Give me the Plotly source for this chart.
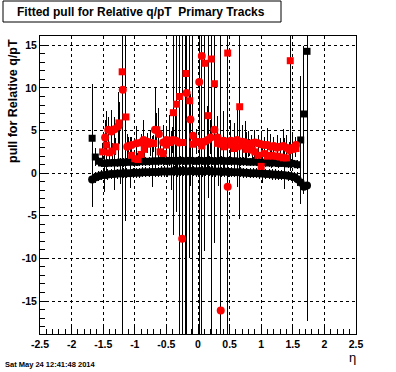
import plotly.graph_objects as go

# ---------------- data ----------------
eta_bins = [
    -1.675, -1.625, -1.575, -1.525, -1.475, -1.425, -1.375, -1.325, -1.275, -1.225,
    -1.175, -1.125, -1.075, -1.025, -0.975, -0.925, -0.875, -0.825, -0.775, -0.725,
    -0.675, -0.625, -0.575, -0.525, -0.475, -0.425, -0.375, -0.325, -0.275, -0.225,
    -0.175, -0.125, -0.075, -0.025, 0.025, 0.075, 0.125, 0.175, 0.225, 0.275,
    0.325, 0.375, 0.425, 0.475, 0.525, 0.575, 0.625, 0.675, 0.725, 0.775,
    0.825, 0.875, 0.925, 0.975, 1.025, 1.075, 1.125, 1.175, 1.225, 1.275,
    1.325, 1.375, 1.425, 1.475, 1.525, 1.575, 1.625, 1.675, 1.725,
]

black_circle_vals = [
    -0.75, -0.5, -0.35, -0.25, -0.2, -0.15, -0.1, -0.1, -0.05, -0.05,
    0.0, 0.0, 0.0, 0.05, 0.05, 0.05, 0.1, 0.1, 0.1, 0.15,
    0.15, 0.15, 0.2, 0.2, 0.2, 0.2, 0.25, 0.2, 0.25, 0.25,
    0.2, 0.25, 0.25, 0.2, 0.25, 0.2, 0.25, 0.25, 0.2, 0.2,
    0.2, 0.15, 0.2, 0.15, 0.15, 0.1, 0.1, 0.1, 0.05, 0.05,
    0.0, 0.0, 0.0, -0.05, -0.05, -0.1, -0.1, -0.15, -0.15, -0.2,
    -0.2, -0.25, -0.3, -0.35, -0.45, -0.7, -1.1, -1.6, -1.45,
]
black_circle_errs = [
    3.2, 0.6, 0.6, 0.6, 2.0, 0.6, 0.6, 0.6, 0.6, 1.2,
    0.6, 0.6, 0.6, 0.6, 0.6, 0.6, 0.6, 0.6, 0.6, 0.6,
    0.6, 0.6, 0.6, 0.6, 0.6, 0.6, 0.6, 0.6, 0.6, 0.6,
    0.6, 0.6, 0.6, 0.6, 0.6, 0.6, 0.6, 0.6, 0.6, 0.6,
    0.6, 0.6, 0.6, 0.6, 0.6, 0.6, 0.6, 0.6, 0.6, 0.6,
    0.6, 0.6, 0.6, 0.6, 0.6, 0.6, 0.6, 0.6, 0.6, 0.6,
    0.6, 0.6, 0.6, 0.6, 0.6, 0.8, 0.8, 0.8, 0.6,
]

black_square_vals = [
    4.1, 1.9, 1.4, 1.2, 1.15, 1.2, 1.2, 1.25, 1.2, 1.3,
    1.25, 1.3, 1.3, 1.35, 1.3, 1.35, 1.4, 1.35, 1.4, 1.4,
    1.45, 1.4, 1.5, 1.45, 1.4, 1.5, 1.45, 1.4, 1.5, 1.45,
    1.4, 1.5, 1.45, 1.4, 1.5, 1.45, 1.4, 1.5, 1.45, 1.4,
    1.45, 1.5, 1.4, 1.45, 1.4, 1.45, 1.4, 1.35, 1.4, 1.35,
    1.3, 1.35, 1.3, 1.25, 1.3, 1.25, 1.2, 1.25, 1.2, 1.15,
    1.2, 1.15, 1.1, 1.15, 1.1, 1.0, 3.9, 6.95, 14.3,
]
black_square_errs = [
    6.4, 1.0, 0.5, 0.5, 3.0, 0.5, 0.5, 3.2, 0.5, 0.5,
    0.5, 0.5, 3.0, 0.5, 0.5, 0.5, 0.5, 0.5, 0.5, 3.0,
    0.5, 0.5, 0.5, 0.5, 0.5, 3.5, 0.5, 0.5, 0.5, 0.5,
    0.5, 3.0, 0.5, 0.5, 0.5, 0.5, 0.5, 0.5, 0.5, 0.5,
    3.0, 0.5, 0.5, 0.5, 0.5, 0.5, 3.0, 0.5, 0.5, 0.5,
    0.5, 0.5, 0.5, 0.5, 2.5, 0.5, 0.5, 0.5, 0.5, 0.5,
    0.5, 3.0, 0.5, 0.5, 0.5, 0.5, 7.5, 8.0, 31.7,
]

red_square_eta = [
    -1.51, -1.45, -1.40, -1.35, -1.30, -1.25, -1.20, -1.14, -1.10, -1.05,
    -1.00, -0.95, -0.90, -0.85, -0.80, -0.75, -0.70, -0.65, -0.60, -0.55,
    -0.50, -0.45, -0.39, -0.34, -0.29, -0.24, -0.19, -0.13, -0.08, -0.03,
    0.02, 0.06, 0.11, 0.16, 0.21, 0.26, 0.31, 0.36, 0.41, 0.47,
    0.52, 0.57, 0.62, 0.66, 0.71, 0.76, 0.81, 0.86, 0.90, 0.95,
    1.00, 1.05, 1.10, 1.16, 1.20, 1.25, 1.30, 1.35, 1.40, 1.46,
    1.50, 1.55,
]
red_square_vals = [
    2.5, 3.3, 2.4, 2.6, 3.1, 5.9, 11.9, 6.6, 3.2, 2.1,
    1.7, 1.6, 2.2, 2.8, 3.4, 3.6, 3.5, 5.1, 2.5, 2.3,
    3.3, 3.6, 7.1, 8.1, 9.0, 3.6, 11.7, 8.5, 3.4, 3.6,
    3.7, 3.2, 12.9, 6.75, 13.4, 10.5, 3.5, 3.4, 3.1, 14.1,
    3.3, 2.9, 3.1, 7.8, 3.2, 2.8, 3.0, 2.7, 2.5, 2.1,
    0.8, 2.3, 2.0, 2.1, 2.0, 2.0, 1.9, 1.8, 1.8, 13.2,
    2.8, 2.9,
]
red_square_errs = [
    1.0, 4.0, 1.0, 1.0, 1.0, 2.5, 40, 12.2, 1.0, 1.0,
    1.0, 0.8, 1.0, 1.0, 1.0, 1.5, 1.0, 2.0, 1.0, 1.5,
    1.0, 1.5, 14.3, 12.6, 30, 1.5, 35, 18.4, 2.0, 1.0,
    1.0, 3.0, 22, 9.7, 40, 18.7, 2.5, 1.0, 2.0, 40,
    1.5, 3.0, 1.0, 13.2, 1.0, 2.0, 1.0, 1.0, 1.0, 1.0,
    1.0, 1.0, 1.0, 1.5, 1.0, 1.0, 1.0, 1.0, 1.0, 13,
    1.0, 1.0,
]

red_circle_eta = [
    -1.47, -1.42, -1.37, -1.32, -1.26, -1.19, -1.12, -1.05, -0.97, -0.90,
    -0.86, -0.80, -0.75, -0.68, -0.62, -0.55, -0.50, -0.45, -0.40, -0.35,
    -0.30, -0.25, -0.18, -0.12, -0.08, -0.03, 0.02, 0.06, 0.10, 0.15,
    0.20, 0.26, 0.31, 0.36, 0.41, 0.47, 0.52, 0.57, 0.62, 0.70,
    0.75, 0.80, 0.85, 0.90, 0.95, 1.00, 1.05, 1.10, 1.15, 1.20,
    1.25, 1.30, 1.35, 1.40, 1.45, 1.50, 1.55,
]
red_circle_vals = [
    4.2, 5.1, 4.9, 5.15, 5.5, 9.8, 3.1, 3.3, 3.5, 3.6,
    3.9, 3.7, 3.5, 5.1, 4.6, 3.6, 3.9, 3.8, 3.9, 3.8,
    3.6, -7.7, 9.4, 6.3, 4.4, 3.7, 10.7, 13.75, 3.7, 3.9,
    4.2, 5.1, 4.2, -16.1, 3.8, -1.6, 3.8, 3.6, 3.9, 3.7,
    3.6, 3.4, 3.5, 3.6, 3.5, 3.4, 3.3, 3.3, 3.1, 3.2,
    3.0, 3.1, 3.2, 3.0, 2.7, 3.0, 3.3,
]
red_circle_errs = [
    2.0, 1.5, 2.5, 1.5, 4.0, 40, 1.5, 1.0, 2.0, 1.0,
    2.3, 1.0, 1.5, 5.0, 3.0, 2.0, 1.5, 3.0, 1.5, 3.5,
    2.5, 30, 30, 3.0, 30, 1.5, 35, 35, 2.5, 4.0,
    2.0, 5.0, 2.5, 40, 3.5, 6.0, 2.5, 1.5, 4.0, 2.0,
    2.5, 1.5, 1.0, 1.5, 1.0, 1.5, 1.0, 2.0, 1.5, 1.0,
    1.5, 1.0, 2.0, 1.5, 1.0, 1.5, 1.0,
]

x_tick_vals = [-2.5, -2, -1.5, -1, -0.5, 0, 0.5, 1, 1.5, 2, 2.5]
x_tick_text = ["-2.5", "-2", "-1.5", "-1", "-0.5", "0", "0.5", "1", "1.5", "2", "2.5"]
y_tick_vals = [-15, -10, -5, 0, 5, 10, 15]
y_tick_text = ["-15", "-10", "-5", "0", "5", "10", "15"]

title_text = "Fitted pull for Relative q/pT  Primary Tracks"
y_title = "pull for Relative q/pT"
x_title = "η"
date_text = "Sat May 24 12:41:48 2014"

# ---------------- figure ----------------
W, H = 396, 372
L, R, T, B = 40, 40, 36, 38
pw, ph = W - L - R, H - T - B
FONT = "Liberation Sans, Arial, Helvetica, sans-serif"


def px_x(px):
    return (px - L) / pw


def px_y(py):
    return (H - B - py) / ph


series = [
    (eta_bins, black_circle_vals, black_circle_errs, "circle", 8, "black"),
    (eta_bins, black_square_vals, black_square_errs, "square", 7, "black"),
    (red_circle_eta, red_circle_vals, red_circle_errs, "circle", 8, "#ff0000"),
    (red_square_eta, red_square_vals, red_square_errs, "square", 7, "#ff0000"),
]

fig = go.Figure()
# error bars first (drawn beneath all markers)
for xs, ys, es, sym, sz, col in series:
    fig.add_trace(go.Scatter(
        x=xs, y=ys, mode="markers",
        marker=dict(size=1, color="rgba(0,0,0,0)"),
        error_y=dict(type="data", array=es, visible=True, color="black",
                     thickness=1, width=0),
        hoverinfo="skip", showlegend=False,
    ))
for xs, ys, es, sym, sz, col in series:
    fig.add_trace(go.Scatter(
        x=xs, y=ys, mode="markers",
        marker=dict(symbol=sym, size=sz, color=col, line=dict(width=0)),
        showlegend=False,
    ))

axis_common = dict(
    ticks="inside", ticklen=9, tickwidth=1, tickcolor="black",
    showline=True, mirror=True, linecolor="black", linewidth=1,
    showgrid=True, gridcolor="black", griddash="dot", gridwidth=1,
    zeroline=False,
    tickfont=dict(family=FONT, size=10.5, color="black", weight="bold"),
)

fig.update_xaxes(
    range=[-2.5, 2.5], tickmode="array", tickvals=x_tick_vals, ticktext=x_tick_text,
    minor=dict(ticks="inside", ticklen=5, tickcolor="black", tick0=0, dtick=0.1,
               showgrid=False),
    **axis_common,
)
fig.update_yaxes(
    range=[-18.87, 16.1], tickmode="array", tickvals=y_tick_vals, ticktext=y_tick_text,
    minor=dict(ticks="inside", ticklen=5, tickcolor="black", tick0=0, dtick=1,
               showgrid=False),
    **axis_common,
)

fig.add_shape(type="rect", xref="paper", yref="paper",
              x0=px_x(3), x1=px_x(281), y0=px_y(22), y1=px_y(1),
              line=dict(color="black", width=1), fillcolor="white", layer="above")

fig.add_annotation(text=title_text, xref="paper", yref="paper",
                   x=px_x(15), y=px_y(11.5), xanchor="left", yanchor="middle",
                   showarrow=False,
                   font=dict(family=FONT, size=12, color="black", weight="bold"))
fig.add_annotation(text=y_title, xref="paper", yref="paper",
                   x=px_x(13), y=px_y(37), xanchor="center", yanchor="top",
                   textangle=-90, showarrow=False,
                   font=dict(family=FONT, size=12.5, color="black", weight="bold"))
fig.add_annotation(text=x_title, xref="paper", yref="paper",
                   x=px_x(352), y=px_y(358), xanchor="center", yanchor="middle",
                   showarrow=False,
                   font=dict(family=FONT, size=13, color="black"))
fig.add_annotation(text=date_text, xref="paper", yref="paper",
                   x=px_x(3), y=px_y(364), xanchor="left", yanchor="middle",
                   showarrow=False,
                   font=dict(family=FONT, size=7.5, color="black", weight="bold"))

fig.update_layout(
    width=W, height=H,
    margin=dict(l=L, r=R, t=T, b=B, pad=0),
    paper_bgcolor="white", plot_bgcolor="white",
    showlegend=False,
)

post = (
    "document.body.style.margin='0';"
    "document.querySelectorAll('.errorbar path').forEach(function(p){"
    "p.style.shapeRendering='crispEdges';});"
)
fig.write_html("out.html", config={"displayModeBar": False}, post_script=post)
